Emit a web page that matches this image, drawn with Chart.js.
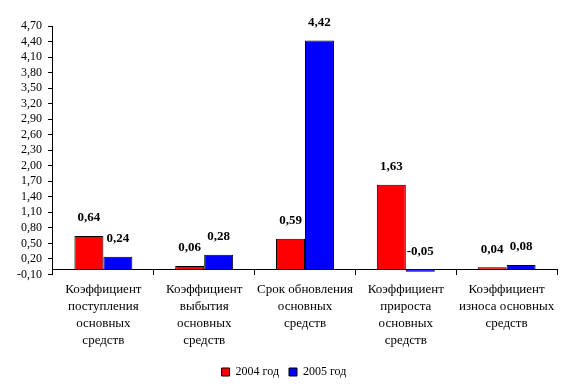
<!DOCTYPE html>
<html>
<head>
<meta charset="utf-8">
<script src="https://cdn.jsdelivr.net/npm/chart.js@4/dist/chart.umd.min.js"></script>
<style>
  html, body { margin: 0; padding: 0; background: #fff; }
  #wrap { width: 573px; height: 388px; }
</style>
</head>
<body>
<div id="wrap"><canvas id="graphique"></canvas></div>
<script>
// categories (multi-line labels)
var categories = [
	["Коэффициент", "поступления", "основных", "средств"],
	["Коэффициент", "выбытия", "основных", "средств"],
	["Срок обновления", "основных", "средств"],
	["Коэффициент", "прироста", "основных", "средств"],
	["Коэффициент", "износа основных", "средств"]
];

// series
var valeurs2004 = [0.64, 0.06, 0.59, 1.63, 0.04];
var valeurs2005 = [0.24, 0.28, 4.42, -0.05, 0.08];
var nomsSeries = ["2004 год", "2005 год"];

// ticks of the value axis
var yTicks = [-0.10, 0.20, 0.50, 0.80, 1.10, 1.40, 1.70, 2.00, 2.30, 2.60, 2.90, 3.20, 3.50, 3.80, 4.10, 4.40, 4.70];

//virgule au lieu du point
function formatNombre(v, d){
	return v.toFixed(d).replace('.', ',');
}

Chart.defaults.font.family = '"Liberation Serif", "Times New Roman", serif';
Chart.defaults.color = '#000';

//les etiquettes au dessus des barres
var etiquettes = {
	id : 'etiquettes',
	afterDatasetsDraw(chart){
		var ctx = chart.ctx;
		ctx.save();
		ctx.font = 'bold 13px "Liberation Serif", "Times New Roman", serif';
		ctx.fillStyle = '#000';
		ctx.textAlign = 'center';
		ctx.textBaseline = 'middle';
		chart.data.datasets.forEach(function(ds, i){
			var meta = chart.getDatasetMeta(i);
			meta.data.forEach(function(el, j){
				var haut = Math.min(el.y, el.base);
				ctx.fillText(formatNombre(ds.data[j], 2), el.x, haut - 18);
			});
		});
		ctx.restore();
	}
};

var ctx = document.getElementById('graphique').getContext('2d');
var config = {
	type : 'bar',
	data : {
		labels : categories,
		datasets : [
			{ label : nomsSeries[0], data : valeurs2004, backgroundColor : '#ff0000', borderColor : '#000', borderWidth : 1, categoryPercentage : 0.575, barPercentage : 1 },
			{ label : nomsSeries[1], data : valeurs2005, backgroundColor : '#0000ff', borderColor : '#000', borderWidth : 1, categoryPercentage : 0.575, barPercentage : 1 }
		]
	},
	options : {
		responsive : true,
		maintainAspectRatio : false,
		animation : false,
		layout : { padding : { left : 11, right : 16, top : 26, bottom : 0 } },
		plugins : {
			legend : {
				position : 'bottom',
				labels : { boxWidth : 8, boxHeight : 8, padding : 10, font : { size : 12 } }
			},
			tooltip : { enabled : false }
		},
		scales : {
			x : {
				type : 'category',
				offset : true,
				border : { display : false },
				grid : { display : false, drawTicks : false, offset : true },
				ticks : { padding : 7, maxRotation : 0, autoSkip : false, font : { size : 13, lineHeight : 1.3 } }
			},
			//l'axe au niveau du zero
			x2 : {
				type : 'category',
				axis : 'x',
				position : { y : 0 },
				offset : true,
				border : { display : true, color : '#000', width : 1 },
				grid : { display : true, drawOnChartArea : false, drawTicks : true, tickLength : 5, color : '#000', offset : true },
				ticks : { display : false }
			},
			y : {
				min : -0.1,
				max : 4.7,
				border : { display : true, color : '#000', width : 1 },
				grid : { drawOnChartArea : false, drawTicks : true, tickLength : 5, color : '#000' },
				afterBuildTicks : function(axis){
					axis.ticks = yTicks.map(function(v){ return { value : v }; });
				},
				ticks : {
					padding : 6,
					autoSkip : false,
					font : { size : 12 },
					callback : function(v){ return formatNombre(v, 2); }
				}
			}
		}
	},
	plugins : [etiquettes]
};
var graph = new Chart(ctx, config);
</script>
</body>
</html>
